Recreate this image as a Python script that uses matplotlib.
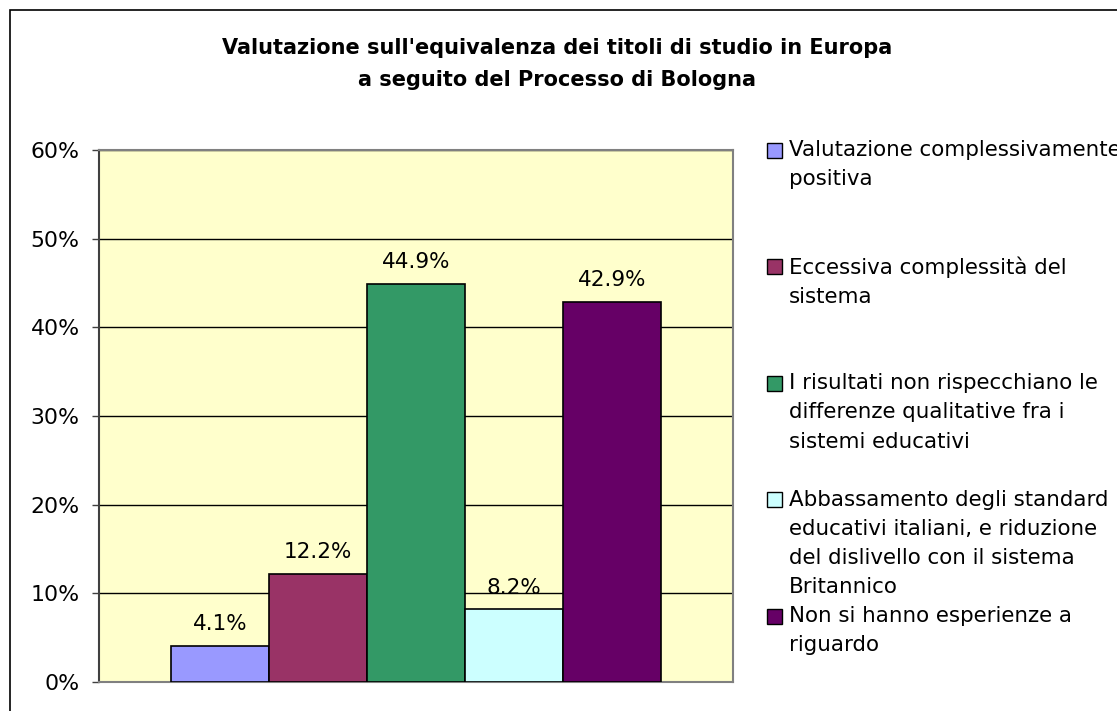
import matplotlib
matplotlib.use("Agg")
import matplotlib.pyplot as plt
from matplotlib.patches import Rectangle
from matplotlib.ticker import FuncFormatter

# data
categories = [
    "Valutazione complessivamente\npositiva",
    "Eccessiva complessità del\nsistema",
    "I risultati non rispecchiano le\ndifferenze qualitative fra i\nsistemi educativi",
    "Abbassamento degli standard\neducativi italiani, e riduzione\ndel dislivello con il sistema\nBritannico",
    "Non si hanno esperienze a\nriguardo",
]
values = [4.1, 12.2, 44.9, 8.2, 42.9]
colors = ["#9999FF", "#993366", "#339966", "#CCFFFF", "#660066"]
yticks = [0, 10, 20, 30, 40, 50, 60]

W, H = 1117, 711
plt.rcParams['font.family'] = ['DejaVu Sans']

fig = plt.figure(figsize=(W / 100, H / 100), dpi=100)

# outer chart border (runs off the right and bottom edge)
fig.patches.append(Rectangle((10 / W, -0.1), 1.2, (H - 10) / H + 0.1,
                             transform=fig.transFigure, fill=False,
                             edgecolor="black", linewidth=1.2))

ax = fig.add_axes([99 / W, (H - 682) / H, (733 - 99) / W, (682 - 150) / H])
ax.set_facecolor("#FFFFCC")

x = list(range(len(values)))
bars = ax.bar(x, values, width=1.0, color=colors, edgecolor="black",
              linewidth=1.2, zorder=3)

for xi, v in zip(x, values):
    ax.annotate(f"{v:.1f}%", (xi, v), xytext=(0, 15.5), textcoords="offset points",
                ha="center", va="center", fontsize=15.5, zorder=4)

ax.set_xlim(-1.235, len(values) - 1 + 1.235)
ax.set_ylim(0, 60)
ax.set_yticks(yticks)
ax.yaxis.set_major_formatter(FuncFormatter(lambda v, p: f"{v:.0f}%"))
ax.set_xticks([])
ax.tick_params(axis="y", direction="out", length=5, width=1, pad=9,
               labelsize=15.8, color="#404040")
ax.yaxis.grid(True, color="black", linewidth=1)
ax.set_axisbelow(True)

for side in ["top", "right", "bottom"]:
    ax.spines[side].set_color("#808080")
    ax.spines[side].set_linewidth(1.5)
ax.spines["left"].set_color("#404040")
ax.spines["left"].set_linewidth(1.5)

fig.text(557 / W, 1 - 64 / H,
         "Valutazione sull'equivalenza dei titoli di studio in Europa\na seguito del Processo di Bologna",
         ha="center", va="center", fontsize=15, fontweight="bold", linespacing=1.7)

# legend drawn by hand so each entry sits on a fixed pitch like the original
leg_first = 150
leg_step = 116.5
for i, (lab, col) in enumerate(zip(categories, colors)):
    yc = leg_first + i * leg_step
    fig.patches.append(Rectangle((767 / W, 1 - (yc + 7.5) / H), 15 / W, 15 / H,
                                 transform=fig.transFigure, facecolor=col,
                                 edgecolor="black", linewidth=1))
    fig.text(789 / W, 1 - (yc - 10) / H, lab, ha="left", va="top",
             fontsize=15.4, linespacing=1.58)

fig.savefig("out.png", dpi=100)
